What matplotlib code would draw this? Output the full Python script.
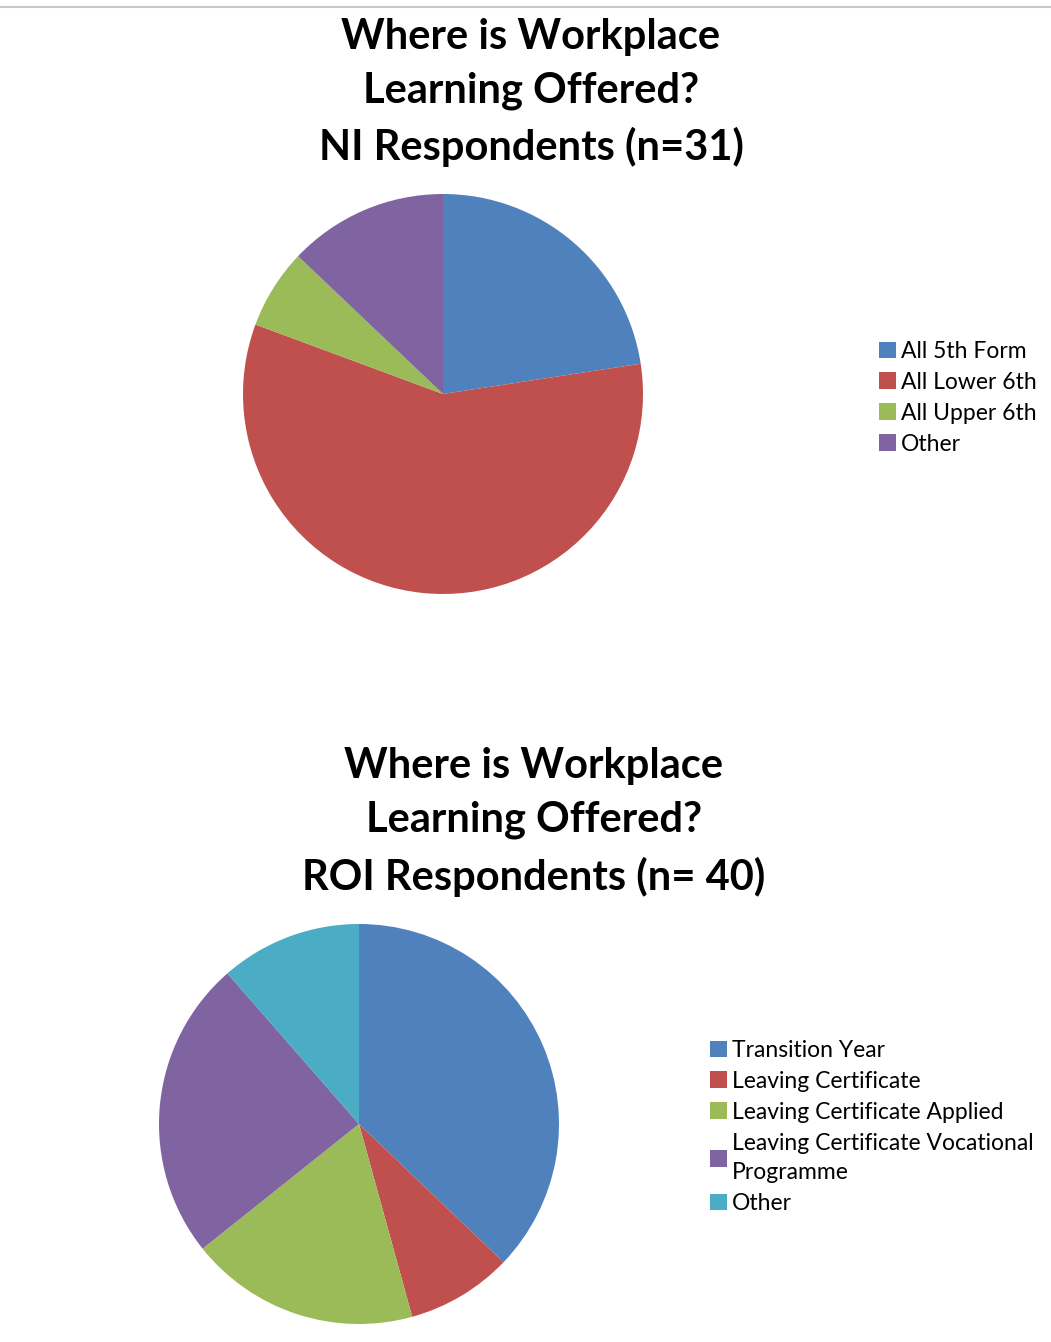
import matplotlib
matplotlib.use("Agg")
import matplotlib.pyplot as plt
from matplotlib.lines import Line2D

plt.rcParams['font.family'] = ['Lato', 'DejaVu Sans']

# NI respondents (n=31)
ni_labels = ['All 5th Form', 'All Lower 6th', 'All Upper 6th', 'Other']
ni_values = [7, 18, 2, 4]
ni_colors = ['#4f81bd', '#c0504d', '#9bbb59', '#8064a2']

# ROI respondents (n=40), multiple answers allowed
roi_labels = ['Transition Year', 'Leaving Certificate', 'Leaving Certificate Applied',
              'Leaving Certificate Vocational\nProgramme', 'Other']
roi_values = [26, 6, 13, 17, 8]
roi_colors = ['#4f81bd', '#c0504d', '#9bbb59', '#8064a2', '#4bacc6']

W, H = 1051, 1342
fig = plt.figure(figsize=(W / 100, H / 100), dpi=100)

# thin grey rule at the very top
fig.add_artist(Line2D([0, 1], [1 - 7 / H, 1 - 7 / H], color='#c8c8c8', lw=1.5))


def px_axes(cx, cy, r):
    # axes square around a pie centre given in pixels from top-left
    return fig.add_axes([(cx - r) / W, 1 - (cy + r) / H, 2 * r / W, 2 * r / H])


def draw_pie(cx, cy, values, colors):
    ax = px_axes(cx, cy, 203)
    wedges, _ = ax.pie(values, colors=colors, startangle=90, counterclock=False,
                       radius=1.0, wedgeprops=dict(linewidth=0))
    ax.set_xlim(-1.015, 1.015)
    ax.set_ylim(-1.015, 1.015)
    ax.set_aspect('equal')
    return ax, wedges


def title(lines, cx, ys):
    for txt, y in zip(lines, ys):
        fig.text(cx / W, 1 - y / H, txt, ha='center', va='center',
                 fontsize=30, fontweight='bold', color='black')


def legend(handles, labels, x, y):
    leg = fig.legend(handles, labels, loc='upper left', bbox_to_anchor=(x / W, 1 - y / H),
                     frameon=False, fontsize=16.5, handlelength=0.75, handleheight=0.75,
                     handletextpad=0.22, labelspacing=0.43, borderpad=0, borderaxespad=0)
    for t in leg.get_texts():
        t.set_linespacing(1.5)
    return leg


title(['Where is Workplace', 'Learning Offered?', 'NI Respondents (n=31)'],
      531, [37, 91, 147])
ax1, w1 = draw_pie(443, 394, ni_values, ni_colors)
legend(w1, ni_labels, 879, 341)

title(['Where is Workplace', 'Learning Offered?', 'ROI Respondents (n= 40)'],
      534, [766, 820, 877])
ax2, w2 = draw_pie(359, 1124, roi_values, roi_colors)
legend(w2, roi_labels, 710, 1040)

fig.savefig('out.png', dpi=100, facecolor='white')
